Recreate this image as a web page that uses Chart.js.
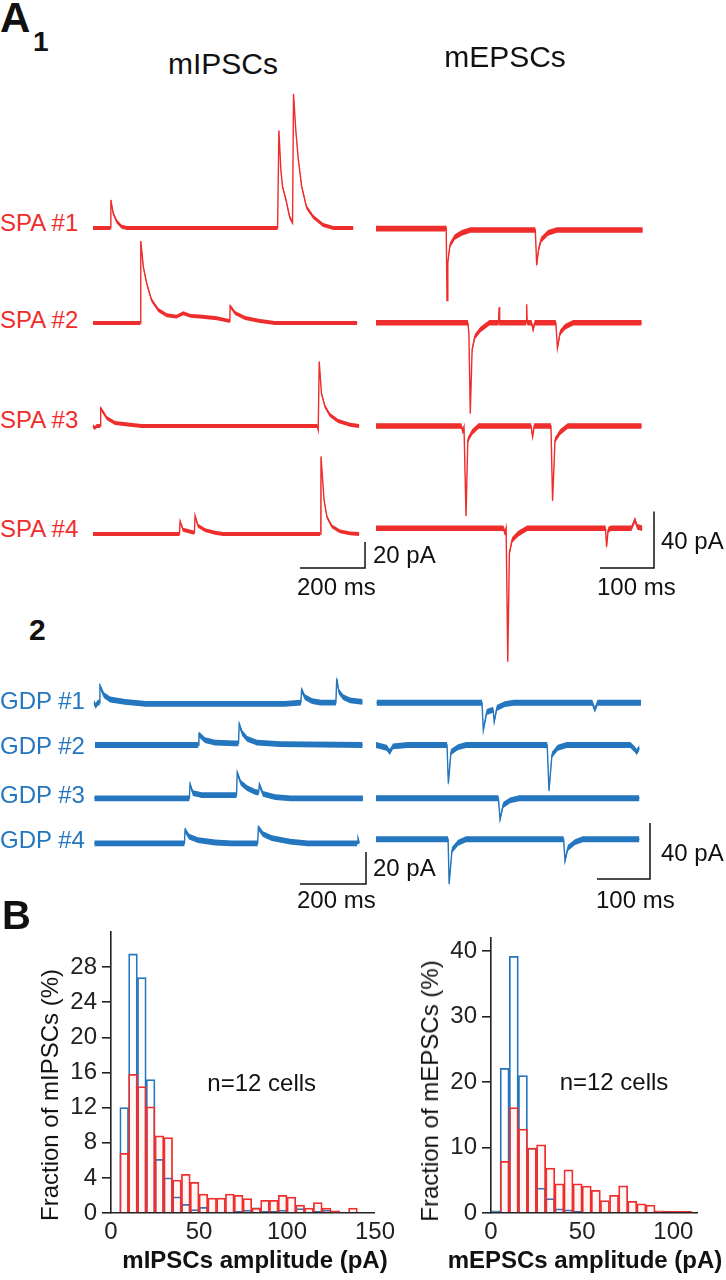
<!DOCTYPE html>
<html><head><meta charset="utf-8">
<script src="https://cdn.jsdelivr.net/npm/chart.js@4.4.1/dist/chart.umd.min.js"></script>
<style>
html,body{margin:0;padding:0;background:#fff;}
body{width:726px;height:1280px;position:relative;overflow:hidden;font-family:'Liberation Sans',Arial,Helvetica,sans-serif;}
canvas{position:absolute;}
.t{position:absolute;white-space:nowrap;color:#111;}
</style></head><body>
<script>
// ---------------- DATA ----------------
// Traces: [time (ms), current (pA, relative to baseline)]
// A1, SPA group, mIPSCs
const spa1_mIPSC = [[0,0],[54,0],[55,21.5],[62,11.5],[73,5],[88,1],[105,0],[568,0],[572,75],[578,45],[583,32],[594,21.5],[605,8.5],[614,4],[617,103],[624,75],[632,52],[642,32],[657,16],[678,8.5],[708,2.3],[740,0],[801,0]];
const spa2_mIPSC = [[0,0],[146,0],[147,63],[155,43],[165,30.7],[180,17.7],[201,10],[227,6],[257,4.9],[278,7.5],[300,5.5],[329,5],[381,3.6],[411,2],[421,1.5],[422,13],[437,7.7],[468,3.8],[514,1.5],[560,0],[813,0]];
const spa3_mIPSC = [[0,0],[5,-1.5],[12,0],[22,0],[23.6,13.6],[43,6],[68,2.3],[114,1],[150,0],[690,0],[693,-3],[696,49.5],[703,25],[714,14.9],[729,8.5],[754,3.8],[791,1],[819,0]];
const spa4_mIPSC = [[0,0],[266,0],[268,9.7],[277,3.3],[312,1],[314,14],[323,6.4],[345,3],[375,1],[400,0],[699,0],[701.5,59.7],[711,26],[720,13],[735,5.9],[760,2],[791,0.5],[819,0]];
// A1, SPA group, mEPSCs
const spa1_mEPSC = [[0,1],[128,1],[130,1.5],[131.5,-50],[133,-23],[137,-10.6],[146,-5],[159,-2],[175,0],[295,0],[297.6,-24.8],[301,-14],[305.6,-7],[318.5,-2],[335,0],[494,0]];
const spa2_mEPSC = [[0,0],[170,0],[172,-7],[174.6,-64.3],[178,-19],[183,-10],[193,-5],[210,0],[227,0],[228,11],[229,0],[278,0],[279,13],[280,0],[288,0],[291,-5],[294,0],[333,0],[336,-18],[341,-7],[350,-3],[365,0],[492,0]];
const spa3_mEPSC = [[0,0],[158,0],[161,-4],[163,-1],[166.7,-63.8],[170,-10],[178,-4.3],[190,0],[287,0],[290,-7.6],[293,0],[324,0],[327,-53],[331.5,-10],[341,-4.3],[355,0],[492,0]];
const spa4_mEPSC = [[0,0],[236,0],[239,-3.4],[241,0],[244,-94.6],[247,-17.7],[252,-8.3],[263,-4],[280,0],[425,0],[427,-13],[430,-1],[435,0],[473,0],[479.6,6],[484,1],[493,0]];
// A2, GDP group, mIPSCs
const gdp1_mIPSC = [[3,0],[8,-2],[15,0],[20,0],[21,10.4],[33,4.8],[52,2],[97,0.5],[160,-0.7],[580,-0.7],[630,0],[632,8],[642,3.5],[664,1],[690,0],[736,0],[738.5,15],[745,6.9],[758,3.5],[779,1.5],[817,0.5]];
const gdp2_mIPSC = [[6,0],[319,0],[321,6.7],[339,3],[370,1.5],[430,1],[441,1],[443,13],[452,7.5],[467,3.8],[497,1.5],[567,0.5],[817,0]];
const gdp3_mIPSC = [[4,0],[292,0],[294,8.7],[303,3.3],[330,2],[435,2],[437,16],[448,9.6],[467,6.4],[491,4],[502,3.5],[504,8.7],[515,2.7],[552,0.8],[600,0],[818,0]];
const gdp4_mIPSC = [[4,0],[277,0],[279,8.3],[291,4.1],[318,2],[370,0.5],[420,0],[499,0],[501,9.8],[515,5.8],[542,3.3],[597,1],[650,0],[800,0],[803,3],[807,0]];
// A2, GDP group, mEPSCs
const gdp1_mEPSC = [[1,0],[200,0],[202.5,-19.5],[209,-6.6],[221,-5],[223,-13.6],[228,-3.8],[243,-1],[260,0],[408,0],[413,-5],[418,0],[500,0]];
const gdp2_mEPSC = [[0,0],[20,-2],[26,-5],[32,-1],[60,0],[134,0],[136.5,-27.4],[141.5,-5],[155,-1.5],[170,0],[323,0],[326.4,-32.6],[332,-7],[343,-2],[360,0],[480,0],[488,-3],[492,-5],[497,-2]];
const gdp3_mEPSC = [[0,0],[231,0],[234,-15],[240,-4.8],[253,-1.5],[270,0],[497,0]];
const gdp4_mEPSC = [[0,0],[136,0],[138,-31.9],[143.4,-7.6],[155,-2.5],[170,0],[354,0],[356.6,-15.3],[362,-6.2],[375.5,-2],[390,0],[497,0]];

// B: amplitude histograms (bin start, pA; fraction %)
const ipscBins = [5,10,15,20,25,30,35,40,45,50,55,60,65,70,75,80,85,90,95,100,105,110,115,120,125,130,135];
const spaIPSC  = [6.8,15.8,14.4,12.1,8.8,8.6,3.75,4.4,3.5,2.15,1.7,1.7,2.15,2.0,1.65,0.55,1.45,1.45,2.0,1.8,0.9,0.55,1.2,0.55,0.25,0,0.55];
const gdpIPSC  = [12.0,29.5,26.8,15.2,6.1,4.0,1.85,1.0,0.4,0.65,0.1,0.1,0.1,0.2,0.3,0.6,0.2,0.2,0.3,0.1,0.5,0.1,0.2,0.3,0.1,0,0];
const epscBins = [0,5,10,15,20,25,30,35,40,45,50,55,60,65,70,75,80,85,90,95,100,105];
const spaEPSC  = [0,7.9,16.1,12.8,9.9,10.4,6.85,4.45,6.6,4.45,4.1,3.45,1.9,2.7,4.15,1.8,1.4,1.2,0.35,0.25,0.25,0.25];
const gdpEPSC  = [0.35,22.1,39.2,21.0,9.9,3.8,2.2,0.65,0.5,0.25,0,0,0,0,0,0,0,0,0,0,0,0];
const ipscXTicks = [0,50,100,150];
const ipscYTicks = [0,4,8,12,16,20,24,28];
const epscXTicks = [0,50,100];
const epscYTicks = [0,10,20,30,40];

// ---------------- STYLE / LAYOUT ----------------
const FONT = "'Liberation Sans', Arial, Helvetica, sans-serif";
const RED = 'rgb(238,46,44)';
const BLUE = 'rgb(36,118,190)';
Chart.defaults.font.family = FONT;

function txt(s, x, base, size, o) {
  o = o || {};
  const d = document.createElement('div');
  d.className = 't';
  d.textContent = s;
  d.style.fontSize = size + 'px';
  d.style.lineHeight = size + 'px';
  if (o.bold) d.style.fontWeight = 'bold';
  if (o.color) d.style.color = o.color;
  if (o.rot) {
    d.style.left = x + 'px'; d.style.top = base + 'px';
    d.style.transform = 'translate(-50%,-50%) rotate(-90deg)';
  } else {
    d.style.top = (base - 0.8465 * size) + 'px';
    d.style.left = x + 'px';
    if (o.center) d.style.transform = 'translateX(-50%)';
  }
  d.style.zIndex = 5;
  document.body.appendChild(d);
}

function mkCanvas(left, top, w, h) {
  const c = document.createElement('canvas');
  c.width = w; c.height = h;
  c.style.left = left + 'px'; c.style.top = top + 'px';
  c.style.width = w + 'px'; c.style.height = h + 'px';
  document.body.appendChild(c);
  return c;
}

function traceChart(L) {
  const c = mkCanvas(L.left, L.top, L.w, L.h);
  const xmin = -(L.x0 - L.left) / L.pxMs;
  const xmax = xmin + L.w / L.pxMs;
  const ymin = -L.h / L.pxPA;
  const ds = [];
  L.traces.forEach((tr, k) => {
    const off = -(L.baselines[k] - L.top) / L.pxPA;
    const common = {pointRadius: 0, tension: 0, clip: false};
    ds.push(Object.assign({data: tr.map(p => ({x: p[0], y: p[1] + off + L.band})), borderColor: 'rgba(0,0,0,0)', borderWidth: 1, backgroundColor: L.color, fill: '+1'}, common));
    ds.push(Object.assign({data: tr.map(p => ({x: p[0], y: p[1] + off - L.band})), borderColor: 'rgba(0,0,0,0)', borderWidth: 1, fill: false}, common));
    ds.push(Object.assign({data: tr.map(p => ({x: p[0], y: p[1] + off})), borderColor: L.color, borderWidth: 1.4, fill: false}, common));
  });
  const sb = L.scaleBar;
  const sbBase = -(sb.yPix - L.top) / L.pxPA;
  ds.push({data: [{x: sb.t0, y: sbBase}, {x: sb.t0 + sb.ms, y: sbBase}, {x: sb.t0 + sb.ms, y: sbBase + sb.pA}],
    borderColor: '#111', borderWidth: 1.5, pointRadius: 0, tension: 0, fill: false, clip: false});
  new Chart(c, {
    type: 'line',
    data: {datasets: ds},
    options: {
      responsive: false, animation: false, devicePixelRatio: 1, events: [],
      layout: {padding: 0, autoPadding: false},
      plugins: {legend: {display: false}, tooltip: {enabled: false}},
      scales: {
        x: {type: 'linear', display: false, min: xmin, max: xmax},
        y: {type: 'linear', display: false, min: ymin, max: 0}
      }
    }
  });
}

function histChart(L) {
  const c = mkCanvas(L.left, L.top, L.w, L.h);
  const mk = (vals) => L.bins.map((b, i) => ({x: b + 2.5, y: vals[i]})).filter(d => d.y > 0);
  const tickFont = {family: FONT, size: 24};
  new Chart(c, {
    type: 'bar',
    data: {datasets: [
      {data: mk(L.spa), backgroundColor: 'rgba(255,110,110,0.06)', borderColor: RED, borderWidth: 1.1,
       grouped: false, barPercentage: 1, categoryPercentage: 1, order: 0},
      {data: mk(L.gdp), backgroundColor: 'rgba(255,255,255,0)', borderColor: BLUE, borderWidth: 1.1,
       grouped: false, barPercentage: 1, categoryPercentage: 1, order: 1}
    ]},
    options: {
      responsive: false, animation: false, devicePixelRatio: 1, events: [],
      layout: {padding: {left: 0, top: L.area.t, right: L.w - L.area.r, bottom: 0}, autoPadding: false},
      plugins: {legend: {display: false}, tooltip: {enabled: false}},
      scales: {
        x: {type: 'linear', min: 0, max: L.xmax, offset: false,
            afterFit: s => { s.height = L.h - L.area.b; },
            afterBuildTicks: s => { s.ticks = L.xticks.map(v => ({value: v})); },
            grid: {drawOnChartArea: false, drawTicks: false},
            border: {display: true, color: '#222', width: 1.6},
            ticks: {font: tickFont, color: '#222', padding: 5, maxRotation: 0, autoSkip: false}},
        y: {type: 'linear', min: 0, max: L.ymax,
            afterFit: s => { s.width = L.area.l; },
            afterBuildTicks: s => { s.ticks = L.yticks.map(v => ({value: v})); },
            grid: {drawOnChartArea: false, drawTicks: true, tickLength: 9, color: '#222', lineWidth: 1.6},
            border: {display: true, color: '#222', width: 1.6},
            ticks: {font: tickFont, color: '#222', padding: 5, autoSkip: false}}
      }
    }
  });
}

// ---------------- PANEL A ----------------
traceChart({left: 80, top: 80, w: 300, h: 520, x0: 93, pxMs: 0.325, pxPA: 1.3, band: 1.5, color: RED,
  baselines: [228, 323, 426, 534], traces: [spa1_mIPSC, spa2_mIPSC, spa3_mIPSC, spa4_mIPSC],
  scaleBar: {t0: 637, ms: 200, pA: 20, yPix: 568}});
traceChart({left: 370, top: 80, w: 300, h: 600, x0: 376, pxMs: 0.54, pxPA: 1.41, band: 2.0, color: RED,
  baselines: [230, 322.7, 426, 528.3], traces: [spa1_mEPSC, spa2_mEPSC, spa3_mEPSC, spa4_mEPSC],
  scaleBar: {t0: 414.8, ms: 100, pA: 40, yPix: 568}});
traceChart({left: 80, top: 640, w: 300, h: 270, x0: 93, pxMs: 0.33, pxPA: 1.6, band: 1.8, color: BLUE,
  baselines: [702.7, 745, 798.3, 843.3], traces: [gdp1_mIPSC, gdp2_mIPSC, gdp3_mIPSC, gdp4_mIPSC],
  scaleBar: {t0: 627.3, ms: 200, pA: 20, yPix: 884}});
traceChart({left: 370, top: 640, w: 300, h: 270, x0: 376, pxMs: 0.53, pxPA: 1.4, band: 2.1, color: BLUE,
  baselines: [702.7, 745, 798.3, 839.3], traces: [gdp1_mEPSC, gdp2_mEPSC, gdp3_mEPSC, gdp4_mEPSC],
  scaleBar: {t0: 417, ms: 100, pA: 40, yPix: 879}});

// ---------------- PANEL B ----------------
histChart({left: 0, top: 900, w: 400, h: 380, area: {l: 111, t: 32, r: 381, b: 313},
  bins: ipscBins, spa: spaIPSC, gdp: gdpIPSC, xmax: 150, ymax: 32, xticks: ipscXTicks, yticks: ipscYTicks});
histChart({left: 380, top: 900, w: 346, h: 380, area: {l: 111, t: 38, r: 317, b: 313},
  bins: epscBins, spa: spaEPSC, gdp: gdpEPSC, xmax: 113, ymax: 42, xticks: epscXTicks, yticks: epscYTicks});

// ---------------- TEXT ----------------
txt('A', 0, 33, 42, {bold: true});
txt('1', 33, 52, 28, {bold: true});
txt('mIPSCs', 223, 74, 30, {center: true});
txt('mEPSCs', 505, 67, 30, {center: true});
txt('SPA #1', 0, 231.7, 24, {color: RED});
txt('SPA #2', 0, 328.5, 24, {color: RED});
txt('SPA #3', 0, 428.3, 24, {color: RED});
txt('SPA #4', 0, 537.3, 24, {color: RED});
txt('20 pA', 373, 563, 24);
txt('200 ms', 297, 595, 24);
txt('40 pA', 661, 549, 24);
txt('100 ms', 597, 595, 24);
txt('2', 29, 640, 30, {bold: true});
txt('GDP #1', 0, 709, 24, {color: BLUE});
txt('GDP #2', 0, 754, 24, {color: BLUE});
txt('GDP #3', 0, 803, 24, {color: BLUE});
txt('GDP #4', 0, 848, 24, {color: BLUE});
txt('20 pA', 373, 876, 24);
txt('200 ms', 297, 908, 24);
txt('40 pA', 661, 861, 24);
txt('100 ms', 596, 908, 24);
txt('B', 2, 929, 40, {bold: true});
txt('Fraction of mIPSCs (%)', 50, 1095, 24, {rot: true});
txt('Fraction of mEPSCs (%)', 429.7, 1090.5, 24, {rot: true});
txt('mIPSCs amplitude (pA)', 255, 1268, 24, {bold: true, center: true});
txt('mEPSCs amplitude (pA)', 585, 1268, 24, {bold: true, center: true});
txt('n=12 cells', 261.7, 1091.7, 24, {center: true});
txt('n=12 cells', 614, 1090.7, 24, {center: true});
</script>
</body></html>
